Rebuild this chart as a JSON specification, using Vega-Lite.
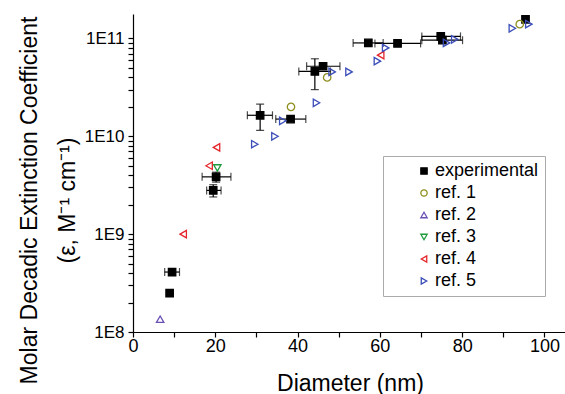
{
  "$schema": "https://vega.github.io/schema/vega-lite/v6.json",
  "width": 432,
  "height": 318,
  "autosize": "none",
  "padding": {"left": 133, "top": 14, "right": 0, "bottom": 62},
  "background": "white",
  "config": {
    "view": {"stroke": null},
    "font": "Liberation Sans",
    "axis": {"grid": false, "domainColor": "black", "tickColor": "black", "labelColor": "black", "titleColor": "black", "labelFont": "Liberation Sans", "titleFont": "Liberation Sans", "titleFontWeight": "normal", "domainWidth": 1.2, "tickWidth": 1.2}
  },
  "data": {
    "values": [
      {"s": "experimental", "d": 8.9, "e": 2.5e8},
      {"s": "experimental", "d": 9.5, "e": 4.1e8, "dlo": 7.7, "dhi": 11.3},
      {"s": "experimental", "d": 19.5, "e": 2.8e9, "dlo": 17.9, "dhi": 21.4, "elo": 2.4e9, "ehi": 3.2e9},
      {"s": "experimental", "d": 20.2, "e": 3.85e9, "dlo": 16.8, "dhi": 23.8, "elo": 3.4e9, "ehi": 4.3e9},
      {"s": "experimental", "d": 30.9, "e": 1.64e10, "dlo": 27.8, "dhi": 33.9, "elo": 1.15e10, "ehi": 2.13e10},
      {"s": "experimental", "d": 38.3, "e": 1.5e10, "dlo": 34.7, "dhi": 42.0},
      {"s": "experimental", "d": 44.2, "e": 4.6e10, "dlo": 40.3, "dhi": 48.0, "elo": 3.0e10, "ehi": 6.2e10},
      {"s": "experimental", "d": 46.2, "e": 5.2e10, "dlo": 42.2, "dhi": 50.3},
      {"s": "experimental", "d": 57.2, "e": 9.0e10, "dlo": 53.5, "dhi": 60.8},
      {"s": "experimental", "d": 64.3, "e": 8.9e10, "dlo": 58.8, "dhi": 69.9},
      {"s": "experimental", "d": 74.8, "e": 1.05e11, "dlo": 70.2, "dhi": 79.6},
      {"s": "experimental", "d": 75.2, "e": 9.6e10, "dlo": 70.2, "dhi": 80.1},
      {"s": "experimental", "d": 95.4, "e": 1.57e11},
      {"s": "ref. 1", "d": 38.4, "e": 2.0e10},
      {"s": "ref. 1", "d": 47.2, "e": 4.0e10},
      {"s": "ref. 1", "d": 94.0, "e": 1.4e11},
      {"s": "ref. 2", "d": 6.6, "e": 1.35e8},
      {"s": "ref. 3", "d": 20.5, "e": 4.75e9},
      {"s": "ref. 4", "d": 12.2, "e": 1.0e9},
      {"s": "ref. 4", "d": 18.5, "e": 5.0e9},
      {"s": "ref. 4", "d": 20.3, "e": 7.7e9},
      {"s": "ref. 4", "d": 60.2, "e": 6.75e10},
      {"s": "ref. 5", "d": 29.6, "e": 8.3e9},
      {"s": "ref. 5", "d": 34.5, "e": 1.0e10},
      {"s": "ref. 5", "d": 36.4, "e": 1.44e10},
      {"s": "ref. 5", "d": 44.6, "e": 2.2e10},
      {"s": "ref. 5", "d": 48.4, "e": 4.55e10},
      {"s": "ref. 5", "d": 52.5, "e": 4.55e10},
      {"s": "ref. 5", "d": 59.4, "e": 5.86e10},
      {"s": "ref. 5", "d": 61.4, "e": 8.0e10},
      {"s": "ref. 5", "d": 76.2, "e": 9.0e10},
      {"s": "ref. 5", "d": 78.2, "e": 9.8e10},
      {"s": "ref. 5", "d": 92.2, "e": 1.27e11},
      {"s": "ref. 5", "d": 96.2, "e": 1.4e11}
    ]
  },
  "resolve": {"scale": {"x": "shared", "y": "shared"}, "axis": {"x": "independent", "y": "independent"}},
  "layer": [
    {
      "transform": [{"filter": "isValid(datum.dlo)"}],
      "mark": {"type": "rule", "color": "black", "strokeWidth": 1.2},
      "encoding": {
        "x": {"field": "dlo", "type": "quantitative", "scale": {"domain": [0, 105], "nice": false, "zero": false}, "axis": null},
        "x2": {"field": "dhi"},
        "y": {"field": "e", "type": "quantitative", "scale": {"type": "log", "domain": [1e8, 1.778e11], "nice": false}, "axis": null}
      }
    },
    {
      "transform": [{"filter": "isValid(datum.dlo)"}, {"fold": ["dlo", "dhi"], "as": ["k", "v"]}],
      "mark": {"type": "tick", "orient": "vertical", "color": "black", "size": 8, "thickness": 1.2},
      "encoding": {
        "x": {"field": "v", "type": "quantitative", "scale": {"domain": [0, 105], "nice": false, "zero": false}, "axis": null},
        "y": {"field": "e", "type": "quantitative", "scale": {"type": "log", "domain": [1e8, 1.778e11], "nice": false}, "axis": null}
      }
    },
    {
      "transform": [{"filter": "isValid(datum.elo)"}],
      "mark": {"type": "rule", "color": "black", "strokeWidth": 1.2},
      "encoding": {
        "x": {"field": "d", "type": "quantitative", "scale": {"domain": [0, 105], "nice": false, "zero": false}, "axis": null},
        "y": {"field": "elo", "type": "quantitative", "scale": {"type": "log", "domain": [1e8, 1.778e11], "nice": false}, "axis": null},
        "y2": {"field": "ehi"}
      }
    },
    {
      "transform": [{"filter": "isValid(datum.elo)"}, {"fold": ["elo", "ehi"], "as": ["k", "v"]}],
      "mark": {"type": "tick", "orient": "horizontal", "color": "black", "size": 8, "thickness": 1.2},
      "encoding": {
        "x": {"field": "d", "type": "quantitative", "scale": {"domain": [0, 105], "nice": false, "zero": false}, "axis": null},
        "y": {"field": "v", "type": "quantitative", "scale": {"type": "log", "domain": [1e8, 1.778e11], "nice": false}, "axis": null}
      }
    },
    {
      "mark": {"type": "point", "opacity": 1, "strokeWidth": 1.3, "size": 55},
      "encoding": {
        "x": {"field": "d", "type": "quantitative", "scale": {"domain": [0, 105], "nice": false, "zero": false},
              "axis": {"orient": "bottom", "values": [0, 10, 20, 30, 40, 50, 60, 70, 80, 90, 100], "labelExpr": "datum.value % 20 == 0 ? datum.label : ''",
                       "tickSize": 5,
                       "encoding": {"ticks": {"update": {"y2": {"signal": "datum.value % 20 == 0 ? 5 : -3"}}}},
                       "labelFontSize": 18, "labelPadding": 0, "labelFlush": false, "labelOverlap": false, "title": "Diameter (nm)", "titleFontSize": 23, "titleX": 217, "titleY": 58, "titleBaseline": "alphabetic"}},
        "y": {"field": "e", "type": "quantitative", "scale": {"type": "log", "domain": [1e8, 1.778e11], "nice": false},
              "axis": {"orient": "left", "values": [1e8, 2e8, 3e8, 4e8, 5e8, 6e8, 7e8, 8e8, 9e8, 1e9, 2e9, 3e9, 4e9, 5e9, 6e9, 7e9, 8e9, 9e9, 1e10, 2e10, 3e10, 4e10, 5e10, 6e10, 7e10, 8e10, 9e10, 1e11],
                       "labelExpr": "abs(log(datum.value)/LN10 - round(log(datum.value)/LN10)) < 0.001 ? '1E' + round(log(datum.value)/LN10) : ''",
                       "tickSize": 5,
                       "encoding": {"ticks": {"update": {"x2": {"signal": "abs(log(datum.value)/LN10 - round(log(datum.value)/LN10)) < 0.001 ? -5 : 3"}}}},
                       "labelFontSize": 17, "labelPadding": 4, "labelOverlap": false, "title": ["Molar Decadic Extinction Coefficient", "(ε, M⁻¹ cm⁻¹)"], "titleFontSize": 23, "titleLineHeight": 38, "titleX": -97, "titleY": 186, "titleBaseline": "alphabetic"}},
        "shape": {"field": "s", "type": "nominal",
                  "scale": {"domain": ["experimental", "ref. 1", "ref. 2", "ref. 3", "ref. 4", "ref. 5"], "range": ["square", "circle", "triangle-up", "triangle-down", "triangle-left", "triangle-right"]},
                  "legend": {"title": null, "orient": "none", "legendX": 250, "legendY": 142, "strokeColor": "#aaaaaa", "fillColor": "white", "padding": 6, "symbolOffset": 26, "labelOffset": 2, "labelFontSize": 18, "labelFont": "Liberation Sans", "labelColor": "black", "symbolSize": 40, "rowPadding": 4, "symbolStrokeWidth": 1.3,
                             "encoding": {"symbols": {"enter": {"x": {"value": 21}}, "update": {"x": {"value": 21}}}}}},
        "stroke": {"field": "s", "type": "nominal",
                   "scale": {"domain": ["experimental", "ref. 1", "ref. 2", "ref. 3", "ref. 4", "ref. 5"], "range": ["black", "#8f8f1f", "#6a4fb5", "#1f9a3c", "#e5262b", "#3a4db8"]}},
        "fill": {"field": "s", "type": "nominal",
                 "scale": {"domain": ["experimental", "ref. 1", "ref. 2", "ref. 3", "ref. 4", "ref. 5"], "range": ["black", "transparent", "transparent", "transparent", "transparent", "transparent"]}}
      }
    }
  ]
}
